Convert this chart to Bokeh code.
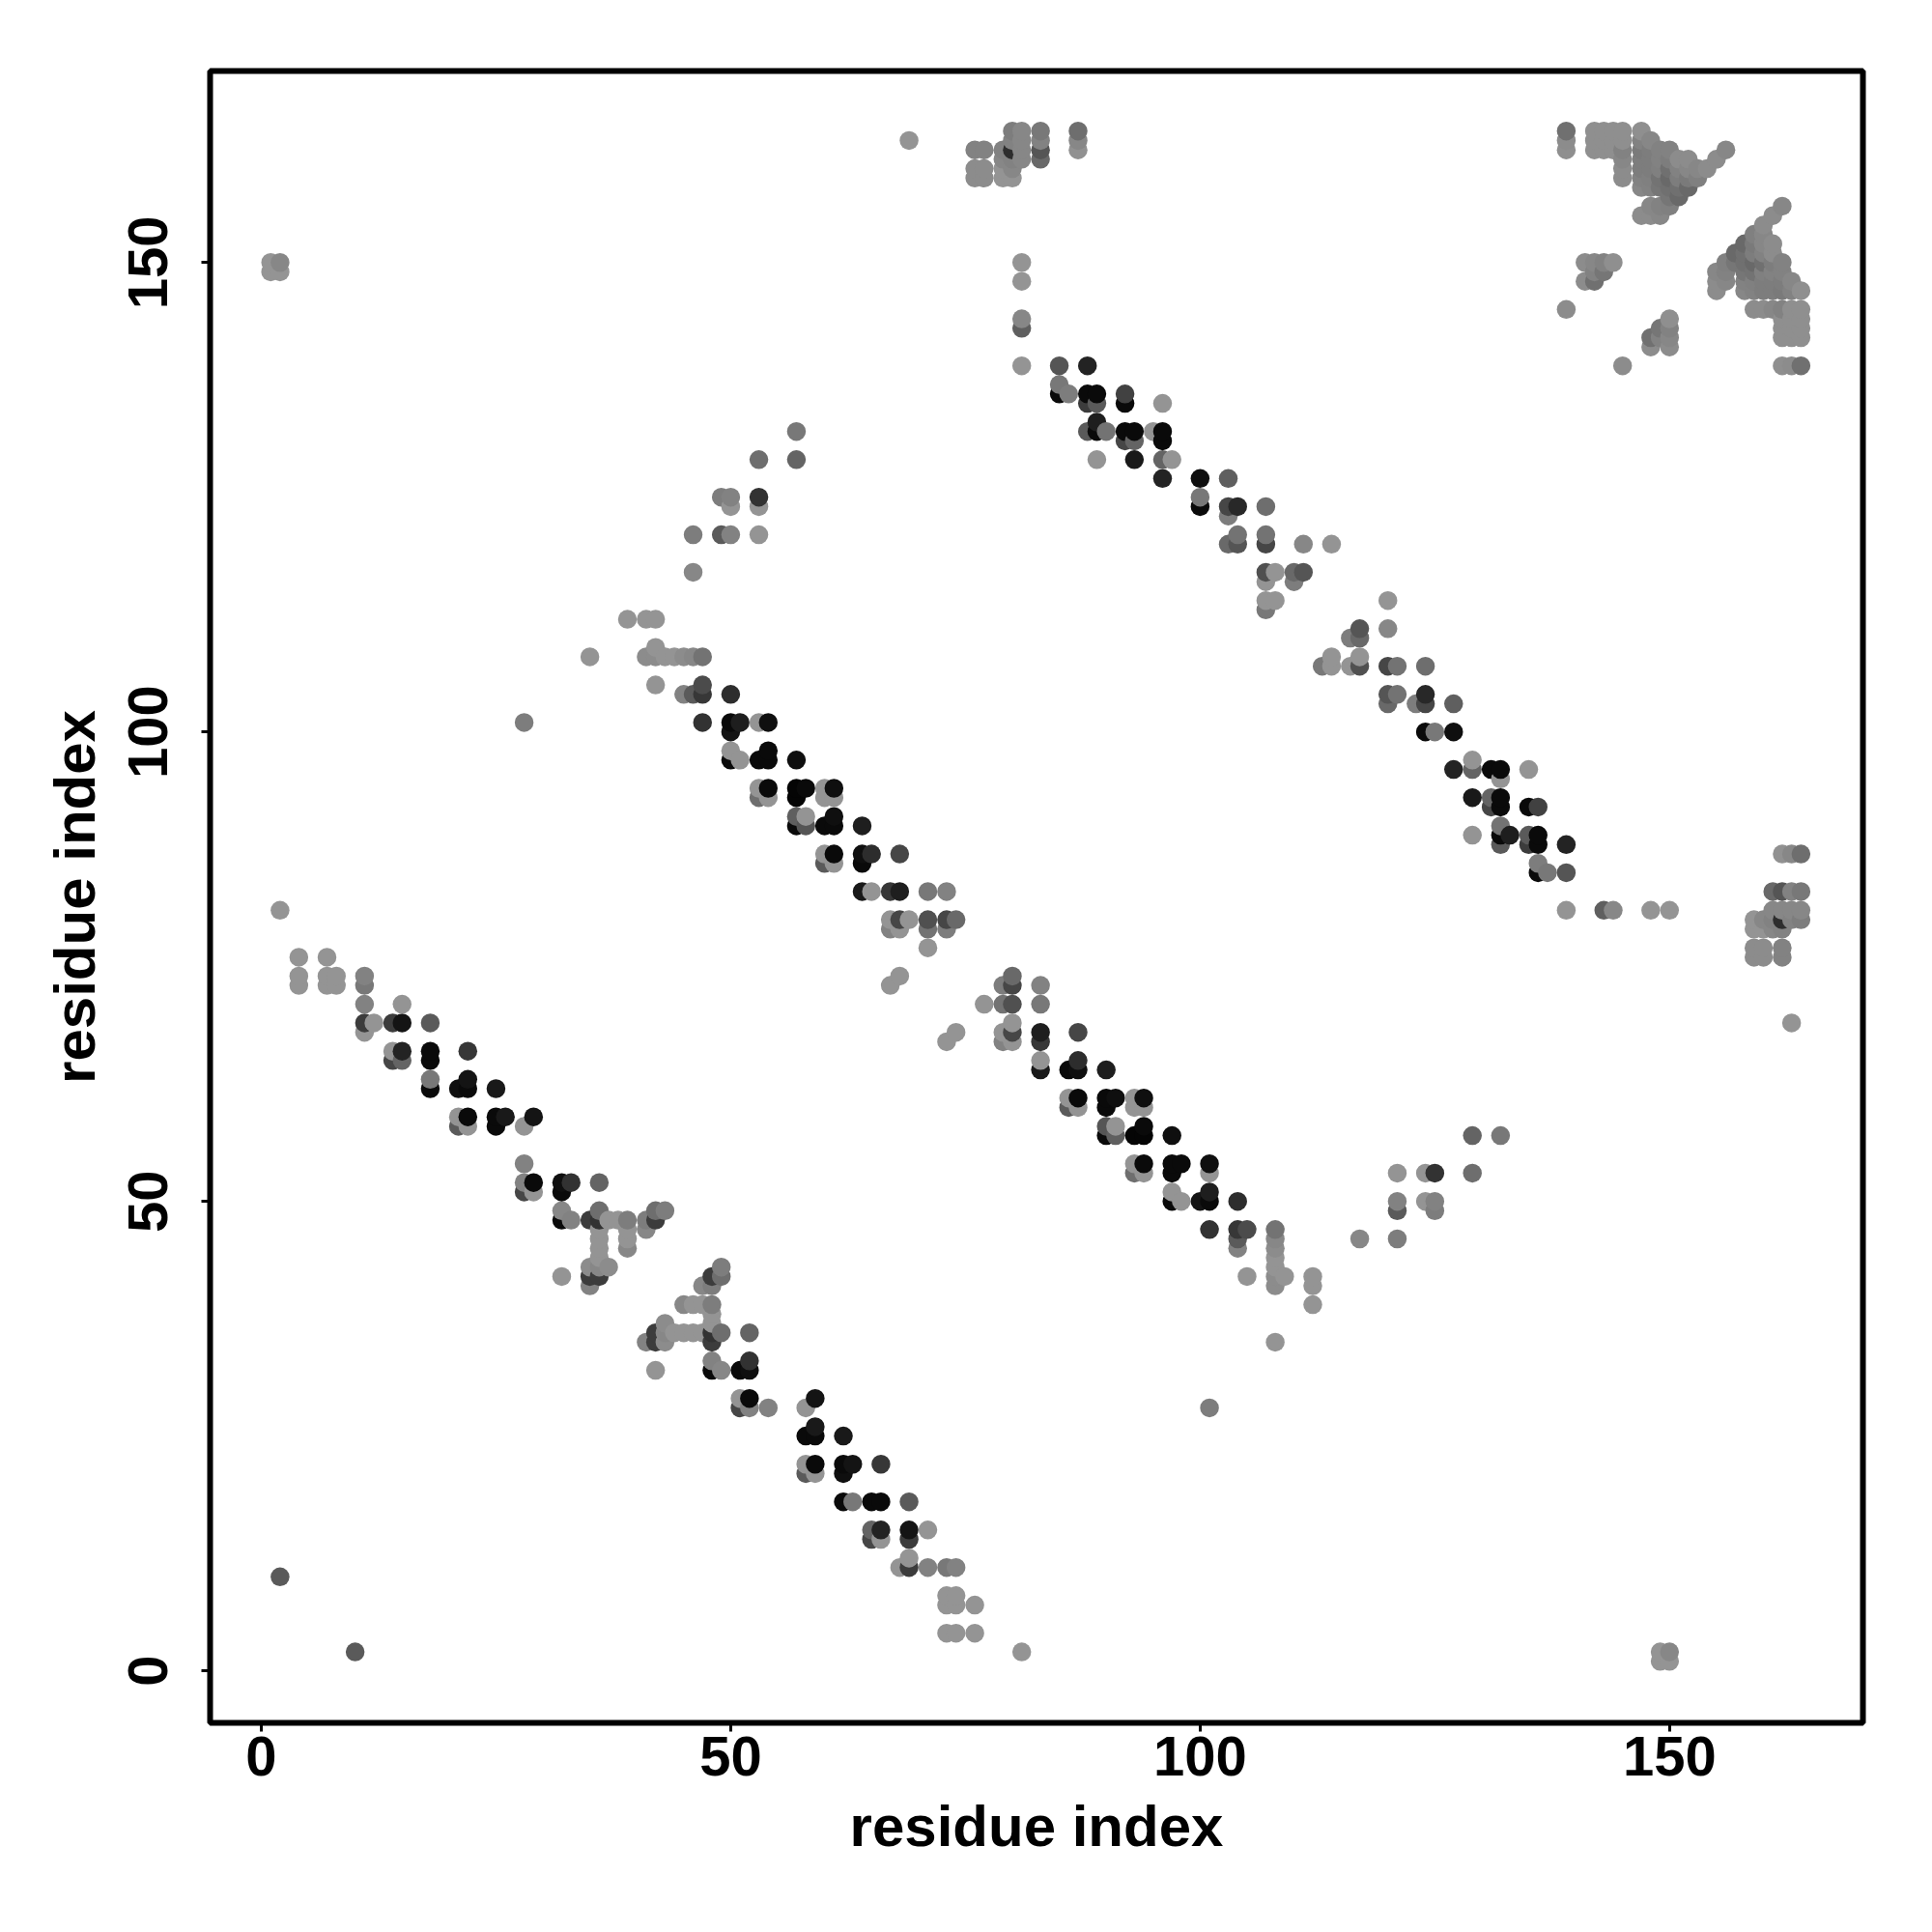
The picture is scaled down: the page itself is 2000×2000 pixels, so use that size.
from bokeh.plotting import figure
from bokeh.embed import file_html
from bokeh.resources import INLINE
from bokeh.models import ColumnDataSource, Range1d, FixedTicker
import pandas as pd

tick_values = [0, 50, 100, 150]
axis_title = "residue index"

# contacts read from the upper triangle (i < j); the map is symmetric about i = j
iso_i = [1, 2, 1, 2, 2, 2, 69]
iso_j = [150, 150, 149, 149, 81, 10, 163]
iso_g = [148, 135, 148, 148, 148, 90, 148]

a_i = [4, 7, 4, 4, 7, 8, 7, 8, 11, 11, 11, 15, 11, 12, 14, 15, 18, 11,
       14, 15, 18, 22, 14, 15, 18, 18, 18, 21, 22, 22, 25,
       21, 22, 21, 22, 25, 26, 25, 28, 29,
       28, 28, 29, 28, 29, 32, 33, 32, 36,
       32, 32, 33, 35, 36, 36, 37, 38, 39, 41, 42, 42, 43, 41,
       36, 36, 36, 36, 36, 35, 37, 35, 36, 32, 35, 39, 39, 39]
a_j = [76, 76, 74, 73, 74, 74, 73, 73, 74, 73, 71, 71, 69, 69, 69, 69, 69, 68,
       66, 66, 66, 66, 65, 65, 65, 63, 62, 62, 62, 63, 62,
       59, 59, 58, 58, 59, 59, 58, 58, 59,
       54, 52, 52, 51, 51, 52, 52, 51, 52,
       49, 48, 48, 48, 48, 49, 48, 48, 48, 48, 48, 49, 49, 47,
       47, 46, 45, 44, 43, 43, 43, 42, 42, 42, 41, 47, 46, 45]
a_g = [148, 148, 148, 148, 148, 148, 148, 148, 130, 120, 130, 148, 60, 148, 60, 20, 90, 148,
       148, 35, 10, 55, 70, 100, 10, 120, 10, 15, 10, 20, 25,
       148, 10, 90, 148, 10, 25, 10, 148, 20,
       130, 130, 10, 70, 148, 15, 50, 10, 100,
       135, 10, 130, 60, 50, 110, 148, 148, 125, 125, 60, 110, 125, 135,
       148, 148, 148, 148, 135, 140, 140, 60, 60, 148, 130, 148, 148, 135]

b_i = [28, 35, 39, 41, 42, 41, 42, 43, 44, 45, 46, 47, 42, 42, 47, 45, 46, 47, 50,
       47, 50, 51, 53, 54, 50, 50, 50, 51, 53, 54, 54, 57,
       53, 54, 53, 54, 57, 58, 57, 60, 61, 60, 61,
       57, 58, 57, 58, 60, 61, 61, 64,
       60, 61, 60, 61, 64, 65, 64, 68,
       64, 65, 67, 68, 71, 73,
       67, 68, 69, 71, 73, 74, 67, 68, 71, 73, 71, 67, 68,
       46, 46, 49, 50, 53, 49, 50, 50, 53, 53, 53, 57, 57]
b_j = [101, 108, 112, 112, 112, 108, 108, 108, 108, 108, 108, 108, 109, 105, 105, 104, 104, 104, 104,
       101, 101, 101, 101, 101, 100, 98, 97, 97, 97, 97, 98, 97,
       94, 94, 93, 93, 94, 94, 93, 94, 94, 93, 93,
       91, 91, 90, 90, 90, 90, 91, 90,
       87, 87, 86, 86, 87, 87, 86, 87,
       83, 83, 83, 83, 83, 83,
       80, 80, 80, 80, 80, 80, 79, 79, 79, 79, 77, 73, 74,
       117, 121, 121, 121, 121, 125, 125, 124, 125, 124, 129, 129, 132]
b_g = [125, 148, 148, 148, 148, 140, 140, 148, 148, 140, 135, 115, 148, 148, 75, 130, 90, 55, 45,
       50, 10, 30, 148, 15, 20, 148, 10, 148, 10, 10, 10, 15,
       148, 10, 110, 148, 5, 10, 5, 148, 15, 148, 148,
       95, 148, 10, 85, 10, 10, 15, 30,
       148, 10, 90, 148, 15, 45, 10, 70,
       25, 148, 55, 30, 120, 130,
       148, 70, 148, 80, 70, 105, 130, 148, 115, 125, 148, 148, 148,
       135, 125, 90, 130, 148, 125, 130, 148, 50, 148, 110, 100, 120]

c_i = [81, 81, 81, 81, 81, 81, 81, 85, 88, 81, 81, 81, 81, 81, 81,
       85, 86, 85, 88, 89, 88, 89, 92, 92, 96,
       89, 88, 89, 90, 92, 93, 92, 93, 95, 96, 96,
       89, 93, 96, 97, 96, 100, 103,
       100, 100, 103, 104, 103, 107,
       104, 107, 103, 104, 107, 111, 114,
       107, 108, 110, 111, 107, 110, 107, 108, 107]
c_j = [150, 148, 144, 143, 139, 143, 144, 139, 139, 148, 150, 162, 163, 164, 161,
       137, 136, 136, 136, 136, 135, 135, 136, 135, 135,
       133, 132, 132, 132, 132, 132, 131, 131, 132, 132, 131,
       129, 129, 129, 129, 127, 127, 127,
       125, 124, 124, 124, 123, 124,
       121, 121, 120, 120, 120, 120, 120,
       117, 117, 117, 117, 116, 116, 114, 114, 113]
c_g = [148, 148, 135, 95, 148, 95, 140, 85, 35, 148, 148, 135, 135, 135, 135,
       120, 125, 10, 10, 10, 60, 90, 65, 10, 148,
       30, 90, 10, 115, 10, 10, 70, 100, 148, 10, 10,
       148, 25, 100, 148, 35, 15, 95,
       120, 10, 70, 40, 125, 110,
       115, 115, 105, 85, 70, 135, 148,
       80, 148, 105, 85, 148, 125, 148, 148, 120]

top_i = [76, 77, 76, 77, 76, 77, 79, 79, 79, 79, 80, 80, 80, 80, 80, 80, 81, 83, 83, 83, 83, 87, 87, 87, 148, 150]
top_j = [162, 162, 160, 160, 159, 159, 162, 161, 160, 159, 164, 163, 162, 161, 160, 159, 162, 164, 163, 162, 161, 164, 163, 162, 162, 162]
top_g = [130, 130, 140, 140, 140, 140, 130, 135, 148, 148, 125, 130, 45, 130, 135, 148, 140, 120, 130, 85, 105, 110, 135, 145, 125, 130]

d_i = [139, 139, 139, 139, 141, 142, 143, 144, 141, 142, 142, 143, 145,
       142, 142, 142, 143, 143, 143, 144, 144, 144,
       145, 145, 145, 145, 145, 145,
       147, 147, 147, 147, 147, 147, 147, 147,
       148, 148, 148, 148, 148, 148, 148,
       149, 149, 149, 149, 149, 149, 149,
       150, 150, 150, 150, 150, 150,
       151, 151, 151, 151, 151, 152, 152, 152, 152, 153, 153, 154, 155, 156]
d_j = [164, 163, 162, 145, 150, 150, 150, 150, 148, 148, 149, 149, 139,
       164, 163, 162, 164, 163, 162, 164, 163, 162,
       164, 163, 162, 161, 160, 159,
       164, 163, 162, 161, 160, 159, 158, 155,
       163, 161, 160, 159, 158, 156, 155,
       162, 161, 160, 159, 158, 156, 155,
       161, 160, 159, 158, 157, 156,
       161, 160, 159, 158, 157, 161, 160, 159, 158, 160, 159, 160, 161, 162]
d_g = [112, 140, 143, 140, 140, 135, 130, 143, 140, 112, 130, 118, 140,
       143, 143, 143, 143, 143, 143, 143, 143, 143,
       143, 143, 130, 135, 140, 140,
       143, 130, 122, 125, 125, 130, 135, 140,
       135, 125, 125, 128, 130, 135, 140,
       130, 130, 128, 115, 118, 130, 135,
       125, 112, 105, 112, 118, 128,
       140, 130, 125, 112, 105, 140, 135, 122, 105, 135, 128, 140, 140, 135]

res_i = iso_i + a_i + b_i + c_i + top_i + d_i
res_j = iso_j + a_j + b_j + c_j + top_j + d_j
shade = iso_g + a_g + b_g + c_g + top_g + d_g

df = pd.DataFrame({
    "x": res_i + res_j,
    "y": res_j + res_i,
    "g": shade + shade,
})
df = df.drop_duplicates(["x", "y"]).sort_values(["x", "y"])
df["color"] = [f"#{v:02x}{v:02x}{v:02x}" for v in df["g"]]

p = figure(width=1992, height=1992, output_backend="svg", toolbar_location=None,
           x_range=Range1d(-5.45, 170.6), y_range=Range1d(-5.55, 170.4),
           min_border_left=217, min_border_right=64, min_border_top=73, min_border_bottom=209)
p.background_fill_color = "white"
p.grid.visible = False
p.outline_line_color = "black"
p.outline_line_width = 6

p.scatter("x", "y", source=ColumnDataSource(df), size=19.5, color="color", line_color=None)

for ax in (p.xaxis[0], p.yaxis[0]):
    ax.ticker = FixedTicker(ticks=tick_values)
    ax.axis_label = axis_title
    ax.axis_line_color = None
    ax.minor_tick_line_color = None
    ax.major_tick_line_color = "black"
    ax.major_tick_line_width = 3
    ax.major_tick_out = 9
    ax.major_tick_in = 0
    ax.major_label_text_font = "Liberation Sans"
    ax.major_label_text_font_style = "bold"
    ax.major_label_text_font_size = "58px"
    ax.major_label_text_color = "black"
    ax.axis_label_text_font = "Liberation Sans"
    ax.axis_label_text_font_style = "bold"
    ax.axis_label_text_font_size = "60px"
    ax.axis_label_text_color = "black"
p.xaxis[0].major_label_standoff = 5
p.xaxis[0].axis_label_standoff = 16
p.yaxis[0].major_label_standoff = 35
p.yaxis[0].axis_label_standoff = 20
p.yaxis[0].major_label_orientation = "vertical"

open("out.html", "w").write(file_html(p, INLINE))
